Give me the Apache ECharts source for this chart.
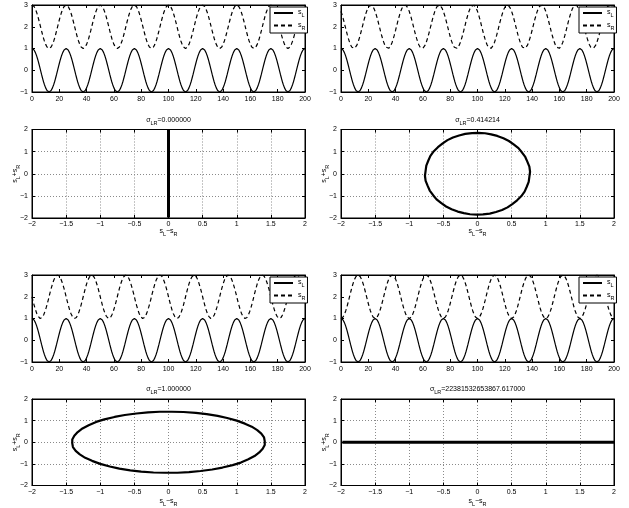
<!DOCTYPE html>
<html>
<head>
<meta charset="utf-8">
<script src="https://cdn.jsdelivr.net/npm/echarts@6/dist/echarts.min.js"></script>
<style>
  html, body { margin: 0; padding: 0; background: #fff; }
  #chart { width: 629px; height: 508px; }
</style>
</head>
<body>
<div id="chart"></div>
<script>
// Sample spacing along the time axis (time 0..200, 50 samples per period of 25)
const sampleStep = 0.5;

// Left channel
const sL = [
  1,0.99,0.97,0.93,0.88,0.81,0.73,0.64,0.54,0.43,0.31,0.19,0.06,-0.06,-0.19,-0.31,-0.43,-0.54,-0.64,-0.73,-0.81,-0.88,-0.93,-0.97,-0.99,-1,-0.99,-0.97,-0.93,-0.88,-0.81,-0.73,-0.64,-0.54,-0.43,-0.31,-0.19,-0.06,0.06,0.19,0.31,0.43,0.54,0.64,0.73,0.81,0.88,0.93,0.97,0.99,
  1,0.99,0.97,0.93,0.88,0.81,0.73,0.64,0.54,0.43,0.31,0.19,0.06,-0.06,-0.19,-0.31,-0.43,-0.54,-0.64,-0.73,-0.81,-0.88,-0.93,-0.97,-0.99,-1,-0.99,-0.97,-0.93,-0.88,-0.81,-0.73,-0.64,-0.54,-0.43,-0.31,-0.19,-0.06,0.06,0.19,0.31,0.43,0.54,0.64,0.73,0.81,0.88,0.93,0.97,0.99,
  1,0.99,0.97,0.93,0.88,0.81,0.73,0.64,0.54,0.43,0.31,0.19,0.06,-0.06,-0.19,-0.31,-0.43,-0.54,-0.64,-0.73,-0.81,-0.88,-0.93,-0.97,-0.99,-1,-0.99,-0.97,-0.93,-0.88,-0.81,-0.73,-0.64,-0.54,-0.43,-0.31,-0.19,-0.06,0.06,0.19,0.31,0.43,0.54,0.64,0.73,0.81,0.88,0.93,0.97,0.99,
  1,0.99,0.97,0.93,0.88,0.81,0.73,0.64,0.54,0.43,0.31,0.19,0.06,-0.06,-0.19,-0.31,-0.43,-0.54,-0.64,-0.73,-0.81,-0.88,-0.93,-0.97,-0.99,-1,-0.99,-0.97,-0.93,-0.88,-0.81,-0.73,-0.64,-0.54,-0.43,-0.31,-0.19,-0.06,0.06,0.19,0.31,0.43,0.54,0.64,0.73,0.81,0.88,0.93,0.97,0.99,
  1,0.99,0.97,0.93,0.88,0.81,0.73,0.64,0.54,0.43,0.31,0.19,0.06,-0.06,-0.19,-0.31,-0.43,-0.54,-0.64,-0.73,-0.81,-0.88,-0.93,-0.97,-0.99,-1,-0.99,-0.97,-0.93,-0.88,-0.81,-0.73,-0.64,-0.54,-0.43,-0.31,-0.19,-0.06,0.06,0.19,0.31,0.43,0.54,0.64,0.73,0.81,0.88,0.93,0.97,0.99,
  1,0.99,0.97,0.93,0.88,0.81,0.73,0.64,0.54,0.43,0.31,0.19,0.06,-0.06,-0.19,-0.31,-0.43,-0.54,-0.64,-0.73,-0.81,-0.88,-0.93,-0.97,-0.99,-1,-0.99,-0.97,-0.93,-0.88,-0.81,-0.73,-0.64,-0.54,-0.43,-0.31,-0.19,-0.06,0.06,0.19,0.31,0.43,0.54,0.64,0.73,0.81,0.88,0.93,0.97,0.99,
  1,0.99,0.97,0.93,0.88,0.81,0.73,0.64,0.54,0.43,0.31,0.19,0.06,-0.06,-0.19,-0.31,-0.43,-0.54,-0.64,-0.73,-0.81,-0.88,-0.93,-0.97,-0.99,-1,-0.99,-0.97,-0.93,-0.88,-0.81,-0.73,-0.64,-0.54,-0.43,-0.31,-0.19,-0.06,0.06,0.19,0.31,0.43,0.54,0.64,0.73,0.81,0.88,0.93,0.97,0.99,
  1,0.99,0.97,0.93,0.88,0.81,0.73,0.64,0.54,0.43,0.31,0.19,0.06,-0.06,-0.19,-0.31,-0.43,-0.54,-0.64,-0.73,-0.81,-0.88,-0.93,-0.97,-0.99,-1,-0.99,-0.97,-0.93,-0.88,-0.81,-0.73,-0.64,-0.54,-0.43,-0.31,-0.19,-0.06,0.06,0.19,0.31,0.43,0.54,0.64,0.73,0.81,0.88,0.93,0.97,0.99,
  1
];

// Right channel as plotted (lifted by sROffset), one array per phase difference
const sR_in_phase = [
  3,2.99,2.97,2.93,2.88,2.81,2.73,2.64,2.54,2.43,2.31,2.19,2.06,1.94,1.81,1.69,1.57,1.46,1.36,1.27,1.19,1.12,1.07,1.03,1.01,1,1.01,1.03,1.07,1.12,1.19,1.27,1.36,1.46,1.57,1.69,1.81,1.94,2.06,2.19,2.31,2.43,2.54,2.64,2.73,2.81,2.88,2.93,2.97,2.99,
  3,2.99,2.97,2.93,2.88,2.81,2.73,2.64,2.54,2.43,2.31,2.19,2.06,1.94,1.81,1.69,1.57,1.46,1.36,1.27,1.19,1.12,1.07,1.03,1.01,1,1.01,1.03,1.07,1.12,1.19,1.27,1.36,1.46,1.57,1.69,1.81,1.94,2.06,2.19,2.31,2.43,2.54,2.64,2.73,2.81,2.88,2.93,2.97,2.99,
  3,2.99,2.97,2.93,2.88,2.81,2.73,2.64,2.54,2.43,2.31,2.19,2.06,1.94,1.81,1.69,1.57,1.46,1.36,1.27,1.19,1.12,1.07,1.03,1.01,1,1.01,1.03,1.07,1.12,1.19,1.27,1.36,1.46,1.57,1.69,1.81,1.94,2.06,2.19,2.31,2.43,2.54,2.64,2.73,2.81,2.88,2.93,2.97,2.99,
  3,2.99,2.97,2.93,2.88,2.81,2.73,2.64,2.54,2.43,2.31,2.19,2.06,1.94,1.81,1.69,1.57,1.46,1.36,1.27,1.19,1.12,1.07,1.03,1.01,1,1.01,1.03,1.07,1.12,1.19,1.27,1.36,1.46,1.57,1.69,1.81,1.94,2.06,2.19,2.31,2.43,2.54,2.64,2.73,2.81,2.88,2.93,2.97,2.99,
  3,2.99,2.97,2.93,2.88,2.81,2.73,2.64,2.54,2.43,2.31,2.19,2.06,1.94,1.81,1.69,1.57,1.46,1.36,1.27,1.19,1.12,1.07,1.03,1.01,1,1.01,1.03,1.07,1.12,1.19,1.27,1.36,1.46,1.57,1.69,1.81,1.94,2.06,2.19,2.31,2.43,2.54,2.64,2.73,2.81,2.88,2.93,2.97,2.99,
  3,2.99,2.97,2.93,2.88,2.81,2.73,2.64,2.54,2.43,2.31,2.19,2.06,1.94,1.81,1.69,1.57,1.46,1.36,1.27,1.19,1.12,1.07,1.03,1.01,1,1.01,1.03,1.07,1.12,1.19,1.27,1.36,1.46,1.57,1.69,1.81,1.94,2.06,2.19,2.31,2.43,2.54,2.64,2.73,2.81,2.88,2.93,2.97,2.99,
  3,2.99,2.97,2.93,2.88,2.81,2.73,2.64,2.54,2.43,2.31,2.19,2.06,1.94,1.81,1.69,1.57,1.46,1.36,1.27,1.19,1.12,1.07,1.03,1.01,1,1.01,1.03,1.07,1.12,1.19,1.27,1.36,1.46,1.57,1.69,1.81,1.94,2.06,2.19,2.31,2.43,2.54,2.64,2.73,2.81,2.88,2.93,2.97,2.99,
  3,2.99,2.97,2.93,2.88,2.81,2.73,2.64,2.54,2.43,2.31,2.19,2.06,1.94,1.81,1.69,1.57,1.46,1.36,1.27,1.19,1.12,1.07,1.03,1.01,1,1.01,1.03,1.07,1.12,1.19,1.27,1.36,1.46,1.57,1.69,1.81,1.94,2.06,2.19,2.31,2.43,2.54,2.64,2.73,2.81,2.88,2.93,2.97,2.99,
  3
];
const sR_eighth = [
  2.71,2.61,2.51,2.4,2.28,2.16,2.03,1.91,1.78,1.66,1.55,1.44,1.34,1.25,1.17,1.11,1.06,1.02,1,1,1.01,1.04,1.08,1.14,1.21,1.29,1.39,1.49,1.6,1.72,1.84,1.97,2.09,2.22,2.34,2.45,2.56,2.66,2.75,2.83,2.89,2.94,2.98,3,3,2.99,2.96,2.92,2.86,2.79,
  2.71,2.61,2.51,2.4,2.28,2.16,2.03,1.91,1.78,1.66,1.55,1.44,1.34,1.25,1.17,1.11,1.06,1.02,1,1,1.01,1.04,1.08,1.14,1.21,1.29,1.39,1.49,1.6,1.72,1.84,1.97,2.09,2.22,2.34,2.45,2.56,2.66,2.75,2.83,2.89,2.94,2.98,3,3,2.99,2.96,2.92,2.86,2.79,
  2.71,2.61,2.51,2.4,2.28,2.16,2.03,1.91,1.78,1.66,1.55,1.44,1.34,1.25,1.17,1.11,1.06,1.02,1,1,1.01,1.04,1.08,1.14,1.21,1.29,1.39,1.49,1.6,1.72,1.84,1.97,2.09,2.22,2.34,2.45,2.56,2.66,2.75,2.83,2.89,2.94,2.98,3,3,2.99,2.96,2.92,2.86,2.79,
  2.71,2.61,2.51,2.4,2.28,2.16,2.03,1.91,1.78,1.66,1.55,1.44,1.34,1.25,1.17,1.11,1.06,1.02,1,1,1.01,1.04,1.08,1.14,1.21,1.29,1.39,1.49,1.6,1.72,1.84,1.97,2.09,2.22,2.34,2.45,2.56,2.66,2.75,2.83,2.89,2.94,2.98,3,3,2.99,2.96,2.92,2.86,2.79,
  2.71,2.61,2.51,2.4,2.28,2.16,2.03,1.91,1.78,1.66,1.55,1.44,1.34,1.25,1.17,1.11,1.06,1.02,1,1,1.01,1.04,1.08,1.14,1.21,1.29,1.39,1.49,1.6,1.72,1.84,1.97,2.09,2.22,2.34,2.45,2.56,2.66,2.75,2.83,2.89,2.94,2.98,3,3,2.99,2.96,2.92,2.86,2.79,
  2.71,2.61,2.51,2.4,2.28,2.16,2.03,1.91,1.78,1.66,1.55,1.44,1.34,1.25,1.17,1.11,1.06,1.02,1,1,1.01,1.04,1.08,1.14,1.21,1.29,1.39,1.49,1.6,1.72,1.84,1.97,2.09,2.22,2.34,2.45,2.56,2.66,2.75,2.83,2.89,2.94,2.98,3,3,2.99,2.96,2.92,2.86,2.79,
  2.71,2.61,2.51,2.4,2.28,2.16,2.03,1.91,1.78,1.66,1.55,1.44,1.34,1.25,1.17,1.11,1.06,1.02,1,1,1.01,1.04,1.08,1.14,1.21,1.29,1.39,1.49,1.6,1.72,1.84,1.97,2.09,2.22,2.34,2.45,2.56,2.66,2.75,2.83,2.89,2.94,2.98,3,3,2.99,2.96,2.92,2.86,2.79,
  2.71,2.61,2.51,2.4,2.28,2.16,2.03,1.91,1.78,1.66,1.55,1.44,1.34,1.25,1.17,1.11,1.06,1.02,1,1,1.01,1.04,1.08,1.14,1.21,1.29,1.39,1.49,1.6,1.72,1.84,1.97,2.09,2.22,2.34,2.45,2.56,2.66,2.75,2.83,2.89,2.94,2.98,3,3,2.99,2.96,2.92,2.86,2.79,
  2.71
];
const sR_quarter = [
  2,1.87,1.75,1.63,1.52,1.41,1.32,1.23,1.16,1.1,1.05,1.02,1,1,1.02,1.05,1.1,1.16,1.23,1.32,1.41,1.52,1.63,1.75,1.87,2,2.13,2.25,2.37,2.48,2.59,2.68,2.77,2.84,2.9,2.95,2.98,3,3,2.98,2.95,2.9,2.84,2.77,2.68,2.59,2.48,2.37,2.25,2.13,
  2,1.87,1.75,1.63,1.52,1.41,1.32,1.23,1.16,1.1,1.05,1.02,1,1,1.02,1.05,1.1,1.16,1.23,1.32,1.41,1.52,1.63,1.75,1.87,2,2.13,2.25,2.37,2.48,2.59,2.68,2.77,2.84,2.9,2.95,2.98,3,3,2.98,2.95,2.9,2.84,2.77,2.68,2.59,2.48,2.37,2.25,2.13,
  2,1.87,1.75,1.63,1.52,1.41,1.32,1.23,1.16,1.1,1.05,1.02,1,1,1.02,1.05,1.1,1.16,1.23,1.32,1.41,1.52,1.63,1.75,1.87,2,2.13,2.25,2.37,2.48,2.59,2.68,2.77,2.84,2.9,2.95,2.98,3,3,2.98,2.95,2.9,2.84,2.77,2.68,2.59,2.48,2.37,2.25,2.13,
  2,1.87,1.75,1.63,1.52,1.41,1.32,1.23,1.16,1.1,1.05,1.02,1,1,1.02,1.05,1.1,1.16,1.23,1.32,1.41,1.52,1.63,1.75,1.87,2,2.13,2.25,2.37,2.48,2.59,2.68,2.77,2.84,2.9,2.95,2.98,3,3,2.98,2.95,2.9,2.84,2.77,2.68,2.59,2.48,2.37,2.25,2.13,
  2,1.87,1.75,1.63,1.52,1.41,1.32,1.23,1.16,1.1,1.05,1.02,1,1,1.02,1.05,1.1,1.16,1.23,1.32,1.41,1.52,1.63,1.75,1.87,2,2.13,2.25,2.37,2.48,2.59,2.68,2.77,2.84,2.9,2.95,2.98,3,3,2.98,2.95,2.9,2.84,2.77,2.68,2.59,2.48,2.37,2.25,2.13,
  2,1.87,1.75,1.63,1.52,1.41,1.32,1.23,1.16,1.1,1.05,1.02,1,1,1.02,1.05,1.1,1.16,1.23,1.32,1.41,1.52,1.63,1.75,1.87,2,2.13,2.25,2.37,2.48,2.59,2.68,2.77,2.84,2.9,2.95,2.98,3,3,2.98,2.95,2.9,2.84,2.77,2.68,2.59,2.48,2.37,2.25,2.13,
  2,1.87,1.75,1.63,1.52,1.41,1.32,1.23,1.16,1.1,1.05,1.02,1,1,1.02,1.05,1.1,1.16,1.23,1.32,1.41,1.52,1.63,1.75,1.87,2,2.13,2.25,2.37,2.48,2.59,2.68,2.77,2.84,2.9,2.95,2.98,3,3,2.98,2.95,2.9,2.84,2.77,2.68,2.59,2.48,2.37,2.25,2.13,
  2,1.87,1.75,1.63,1.52,1.41,1.32,1.23,1.16,1.1,1.05,1.02,1,1,1.02,1.05,1.1,1.16,1.23,1.32,1.41,1.52,1.63,1.75,1.87,2,2.13,2.25,2.37,2.48,2.59,2.68,2.77,2.84,2.9,2.95,2.98,3,3,2.98,2.95,2.9,2.84,2.77,2.68,2.59,2.48,2.37,2.25,2.13,
  2
];
const sR_opposite = [
  1,1.01,1.03,1.07,1.12,1.19,1.27,1.36,1.46,1.57,1.69,1.81,1.94,2.06,2.19,2.31,2.43,2.54,2.64,2.73,2.81,2.88,2.93,2.97,2.99,3,2.99,2.97,2.93,2.88,2.81,2.73,2.64,2.54,2.43,2.31,2.19,2.06,1.94,1.81,1.69,1.57,1.46,1.36,1.27,1.19,1.12,1.07,1.03,1.01,
  1,1.01,1.03,1.07,1.12,1.19,1.27,1.36,1.46,1.57,1.69,1.81,1.94,2.06,2.19,2.31,2.43,2.54,2.64,2.73,2.81,2.88,2.93,2.97,2.99,3,2.99,2.97,2.93,2.88,2.81,2.73,2.64,2.54,2.43,2.31,2.19,2.06,1.94,1.81,1.69,1.57,1.46,1.36,1.27,1.19,1.12,1.07,1.03,1.01,
  1,1.01,1.03,1.07,1.12,1.19,1.27,1.36,1.46,1.57,1.69,1.81,1.94,2.06,2.19,2.31,2.43,2.54,2.64,2.73,2.81,2.88,2.93,2.97,2.99,3,2.99,2.97,2.93,2.88,2.81,2.73,2.64,2.54,2.43,2.31,2.19,2.06,1.94,1.81,1.69,1.57,1.46,1.36,1.27,1.19,1.12,1.07,1.03,1.01,
  1,1.01,1.03,1.07,1.12,1.19,1.27,1.36,1.46,1.57,1.69,1.81,1.94,2.06,2.19,2.31,2.43,2.54,2.64,2.73,2.81,2.88,2.93,2.97,2.99,3,2.99,2.97,2.93,2.88,2.81,2.73,2.64,2.54,2.43,2.31,2.19,2.06,1.94,1.81,1.69,1.57,1.46,1.36,1.27,1.19,1.12,1.07,1.03,1.01,
  1,1.01,1.03,1.07,1.12,1.19,1.27,1.36,1.46,1.57,1.69,1.81,1.94,2.06,2.19,2.31,2.43,2.54,2.64,2.73,2.81,2.88,2.93,2.97,2.99,3,2.99,2.97,2.93,2.88,2.81,2.73,2.64,2.54,2.43,2.31,2.19,2.06,1.94,1.81,1.69,1.57,1.46,1.36,1.27,1.19,1.12,1.07,1.03,1.01,
  1,1.01,1.03,1.07,1.12,1.19,1.27,1.36,1.46,1.57,1.69,1.81,1.94,2.06,2.19,2.31,2.43,2.54,2.64,2.73,2.81,2.88,2.93,2.97,2.99,3,2.99,2.97,2.93,2.88,2.81,2.73,2.64,2.54,2.43,2.31,2.19,2.06,1.94,1.81,1.69,1.57,1.46,1.36,1.27,1.19,1.12,1.07,1.03,1.01,
  1,1.01,1.03,1.07,1.12,1.19,1.27,1.36,1.46,1.57,1.69,1.81,1.94,2.06,2.19,2.31,2.43,2.54,2.64,2.73,2.81,2.88,2.93,2.97,2.99,3,2.99,2.97,2.93,2.88,2.81,2.73,2.64,2.54,2.43,2.31,2.19,2.06,1.94,1.81,1.69,1.57,1.46,1.36,1.27,1.19,1.12,1.07,1.03,1.01,
  1,1.01,1.03,1.07,1.12,1.19,1.27,1.36,1.46,1.57,1.69,1.81,1.94,2.06,2.19,2.31,2.43,2.54,2.64,2.73,2.81,2.88,2.93,2.97,2.99,3,2.99,2.97,2.93,2.88,2.81,2.73,2.64,2.54,2.43,2.31,2.19,2.06,1.94,1.81,1.69,1.57,1.46,1.36,1.27,1.19,1.12,1.07,1.03,1.01,
  1
];
const sROffset = 2;

// Correlation readouts shown above each goniometer
const sigmaLabels = ['0.000000', '0.414214', '1.000000', '22381532653867.617000'];

// Axis ranges / tick spacing
const timeRange = { xMin: 0, xMax: 200, xStep: 20, yMin: -1, yMax: 3, yStep: 1 };
const gonioRange = { xMin: -2, xMax: 2, xStep: 0.5, yMin: -2, yMax: 2, yStep: 1 };

const FONT = 'Liberation Sans, Arial, sans-serif';
const FS = 7;

// Panel placement (pixels)
const panels = [
  { sR: sR_in_phase, sigma: sigmaLabels[0], left: 32,  tTop: 5,   gTop: 129.5, xNameGap: 10, thick: 3 },
  { sR: sR_eighth,   sigma: sigmaLabels[1], left: 341, tTop: 5,   gTop: 129.5, xNameGap: 10, thick: 2.2 },
  { sR: sR_quarter,  sigma: sigmaLabels[2], left: 32,  tTop: 275, gTop: 399,   xNameGap: 12, thick: 2.2 },
  { sR: sR_opposite, sigma: sigmaLabels[3], left: 341, tTop: 275, gTop: 399,   xNameGap: 12, thick: 3 }
];
const PW = 273, TH = 87, GH = 88.5;

const fmtNum = v => (v < 0 ? '\u2212' + String(Math.abs(v)) : String(v));

const richSub = {
  m: { fontSize: FS, fontFamily: FONT, color: '#000', verticalAlign: 'top', lineHeight: 8 },
  s: { fontSize: 5.5, fontFamily: FONT, color: '#000', verticalAlign: 'top', lineHeight: 5, padding: [3.5, 0, 0, 0] }
};

const grids = [], xAxes = [], yAxes = [], series = [], legends = [], titles = [];

function addFrame(left, top, height, rng, withGrid, names) {
  const gi = grids.length;
  grids.push({ left: left, top: top, width: PW, height: height, show: true,
               borderColor: '#000', borderWidth: 1, backgroundColor: '#fff', containLabel: false });
  const tick = { show: true, inside: true, length: 3, lineStyle: { color: '#000', width: 1 } };
  const line = { show: true, onZero: false, lineStyle: { color: '#000', width: 1 } };
  const split = { show: withGrid, lineStyle: { color: '#8a8a8a', width: 1, type: [1, 2] } };
  const lbl = { show: true, fontSize: FS, fontFamily: FONT, color: '#000', formatter: fmtNum };
  const xi = xAxes.length;
  xAxes.push(Object.assign({
    type: 'value', gridIndex: gi, position: 'bottom', min: rng.xMin, max: rng.xMax, interval: rng.xStep,
    axisLine: line, axisTick: tick, axisLabel: Object.assign({ margin: names ? 3 : 4 }, lbl), splitLine: split
  }, names ? { name: names.x, nameLocation: 'middle', nameGap: names.xGap, nameMoveOverlap: false,
      nameTextStyle: { rich: richSub } } : {}));
  xAxes.push({ type: 'value', gridIndex: gi, position: 'top', min: rng.xMin, max: rng.xMax, interval: rng.xStep,
    axisLine: line, axisTick: tick, axisLabel: { show: false }, splitLine: { show: false } });
  const yi = yAxes.length;
  yAxes.push(Object.assign({
    type: 'value', gridIndex: gi, position: 'left', min: rng.yMin, max: rng.yMax, interval: rng.yStep,
    axisLine: line, axisTick: tick, axisLabel: Object.assign({ margin: 4 }, lbl), splitLine: split
  }, names ? { name: names.y, nameLocation: 'middle', nameGap: 12.5, nameMoveOverlap: false,
      nameTextStyle: { rich: richSub } } : {}));
  yAxes.push({ type: 'value', gridIndex: gi, position: 'right', min: rng.yMin, max: rng.yMax, interval: rng.yStep,
    axisLine: line, axisTick: tick, axisLabel: { show: false }, splitLine: { show: false } });
  return { xi: xi, yi: yi };
}

panels.forEach(p => {
  // waveform panel
  const t = addFrame(p.left, p.tTop, TH, timeRange, false, null);
  series.push({
    type: 'line', name: 'sL', xAxisIndex: t.xi, yAxisIndex: t.yi, symbol: 'none',
    color: '#000', itemStyle: { color: '#000' },
    lineStyle: { color: '#000', width: 1.2 }, data: sL.map((v, i) => [i * sampleStep, v])
  });
  series.push({
    type: 'line', name: 'sR', xAxisIndex: t.xi, yAxisIndex: t.yi, symbol: 'none',
    color: '#000', itemStyle: { color: '#000' },
    lineStyle: { color: '#000', width: 1.2, type: [4, 3] }, data: p.sR.map((v, i) => [i * sampleStep, v])
  });
  legends.push({
    data: ['sL', 'sR'], orient: 'vertical', left: p.left + PW - 35, top: p.tTop + 2,
    itemWidth: 19, itemHeight: 7, itemGap: 3, padding: [2, 2, 2, 3],
    backgroundColor: '#fff', borderColor: '#000', borderWidth: 1, selectedMode: false,
    itemStyle: { opacity: 0, borderWidth: 0 },
    textStyle: { fontSize: FS, fontFamily: FONT, color: '#000', rich: richSub },
    formatter: name => name === 'sL' ? '{m|s}{s|L}' : '{m|s}{s|R}'
  });

  // goniometer panel: side signal (L−R) against mid signal (L+R)
  const g = addFrame(p.left, p.gTop, GH, gonioRange, true,
    { x: '{m|s}{s|L}{m|\u2212s}{s|R}', y: '{m|s}{s|L}{m|+s}{s|R}', xGap: p.xNameGap });
  series.push({
    type: 'line', name: 'goniometer', xAxisIndex: g.xi, yAxisIndex: g.yi, symbol: 'none',
    color: '#000', lineStyle: { color: '#000', width: p.thick },
    data: sL.map((v, i) => [v - (p.sR[i] - sROffset), v + (p.sR[i] - sROffset)])
  });
  titles.push({
    text: '{m|\u03c3}{s|LR}{m|=' + p.sigma + '}',
    left: p.left + PW / 2, top: p.gTop - 13, textAlign: 'center', padding: 0,
    textStyle: { fontSize: FS, fontFamily: FONT, color: '#000', fontWeight: 'normal', rich: richSub }
  });
});

const chart = echarts.init(document.getElementById('chart'), null, { renderer: 'canvas' });
chart.setOption({
  backgroundColor: '#fff',
  animation: false,
  title: titles,
  legend: legends,
  grid: grids,
  xAxis: xAxes,
  yAxis: yAxes,
  series: series
});
</script>
</body>
</html>
